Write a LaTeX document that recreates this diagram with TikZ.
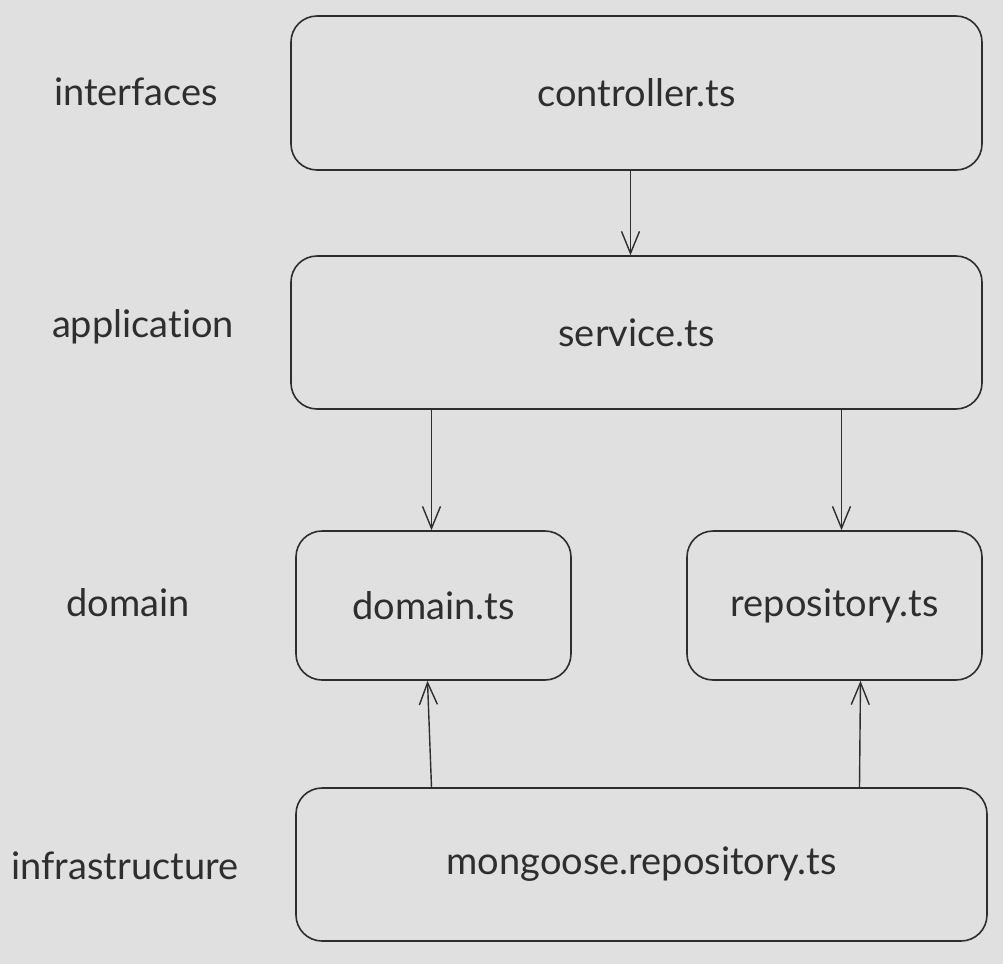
\documentclass[tikz,border=0pt]{standalone}
\usepackage{fontspec}
\setmainfont{Lato}[Ligatures={NoCommon,NoRare}]
\usetikzlibrary{arrows.meta,positioning}
\definecolor{canvasgray}{HTML}{E0E0E0}
\definecolor{inkgray}{HTML}{2E2E2E}
\tikzset{
  filebox/.style={rounded corners=13pt, draw=inkgray, line width=0.8pt, align=center, font=\fontsize{19}{22}\selectfont, text=inkgray, inner sep=0pt},
  layerlabel/.style={font=\fontsize{19}{22}\selectfont, text=inkgray, inner sep=0pt},
  link/.style={-{Straight Barb[length=11pt,width=9pt]}, line width=0.7pt, draw=inkgray}
}
\begin{document}
\begin{tikzpicture}[x=0.5pt, y=-0.5pt]
  \useasboundingbox[fill=canvasgray] (0,0) rectangle (1003,964);
  % layer names
  \node[layerlabel] (lint) at (136,92) {interfaces};
  \node[layerlabel] (lapp) at (143,327) {application};
  \node[layerlabel] (ldom) at (128,603) {domain};
  \node[layerlabel] (linf) at (125,866) {infrastructure};
  % files
  \node[filebox, minimum width=345.5pt, minimum height=77pt] (ctrl) at (636.5,93) {controller.ts};
  \node[filebox, minimum width=345.5pt, minimum height=76.5pt] (srv) at (636.5,332.5) {service.ts};
  \node[filebox, minimum width=137.5pt, minimum height=74.5pt] (dom) at (433.5,605.5) {domain.ts};
  \node[filebox, minimum width=147.5pt, minimum height=74.5pt] (repo) at (834.5,605.5) {repository.ts};
  \node[filebox, minimum width=345.5pt, minimum height=76.5pt] (mongo) at (641.5,864.5) {mongoose.repository.ts};
  % dependencies
  \draw[link] ([xshift=-3pt]ctrl.south) -- ([xshift=-3pt]srv.north);
  \draw[link] ([xshift=-102.5pt]srv.south) -- ([xshift=-1pt]dom.north);
  \draw[link] ([xshift=102.5pt]srv.south) -- ([xshift=3.5pt]repo.north);
  \draw[link] ([xshift=-105pt]mongo.north) -- ([xshift=-3pt]dom.south);
  \draw[link] ([xshift=109pt]mongo.north) -- ([xshift=13pt]repo.south);
\end{tikzpicture}
\end{document}
